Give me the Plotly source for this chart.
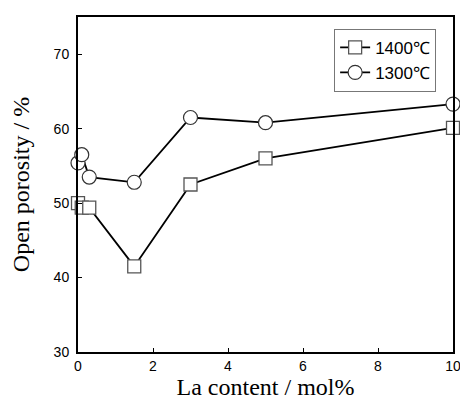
import plotly.graph_objects as go

la_content = [0, 0.1, 0.3, 1.5, 3, 5, 10]
porosity_1400 = [50.0, 49.4, 49.4, 41.5, 52.5, 56.0, 60.1]
porosity_1300 = [55.4, 56.5, 53.5, 52.8, 61.5, 60.8, 63.3]
x_ticks = [0, 2, 4, 6, 8, 10]
y_ticks = [30, 40, 50, 60, 70]

fig = go.Figure()
fig.add_trace(go.Scatter(
    x=la_content, y=porosity_1400, name="1400℃", mode="lines+markers", cliponaxis=False,
    line=dict(color="black", width=1.8),
    marker=dict(symbol="square", size=13, color="white", line=dict(color="#555555", width=1.3)),
))
fig.add_trace(go.Scatter(
    x=la_content, y=porosity_1300, name="1300℃", mode="lines+markers", cliponaxis=False,
    line=dict(color="black", width=1.8),
    marker=dict(symbol="circle", size=14, color="white", line=dict(color="#333333", width=1.2)),
))

fig.update_layout(
    width=460, height=406,
    margin=dict(l=70, r=8, t=7, b=62),
    paper_bgcolor="white", plot_bgcolor="white",
    font=dict(family="Liberation Sans, Arial", size=14, color="black"),
    legend=dict(
        x=0.955, y=0.965, xanchor="right", yanchor="top",
        bordercolor="#777777", borderwidth=1, bgcolor="white",
        font=dict(family="Liberation Sans, Arial", size=17, color="black"),
        itemwidth=30,
    ),
    showlegend=True,
)
fig.update_xaxes(
    range=[0, 10], tickvals=x_ticks, ticks="inside", ticklen=4, tickcolor="black",
    showline=True, linecolor="black", linewidth=2, mirror=True, showgrid=False, zeroline=False,
    title=dict(text="La content / mol%", font=dict(family="Liberation Serif, Times New Roman", size=24), standoff=4),
)
fig.update_yaxes(
    range=[30, 75], tickvals=y_ticks, ticks="inside", ticklen=4, tickcolor="black",
    ticklabelstandoff=4,
    showline=True, linecolor="black", linewidth=2, mirror=True, showgrid=False, zeroline=False,
    title=dict(text="Open porosity / %", font=dict(family="Liberation Serif, Times New Roman", size=24), standoff=18),
)

fig.write_html("out.html")
